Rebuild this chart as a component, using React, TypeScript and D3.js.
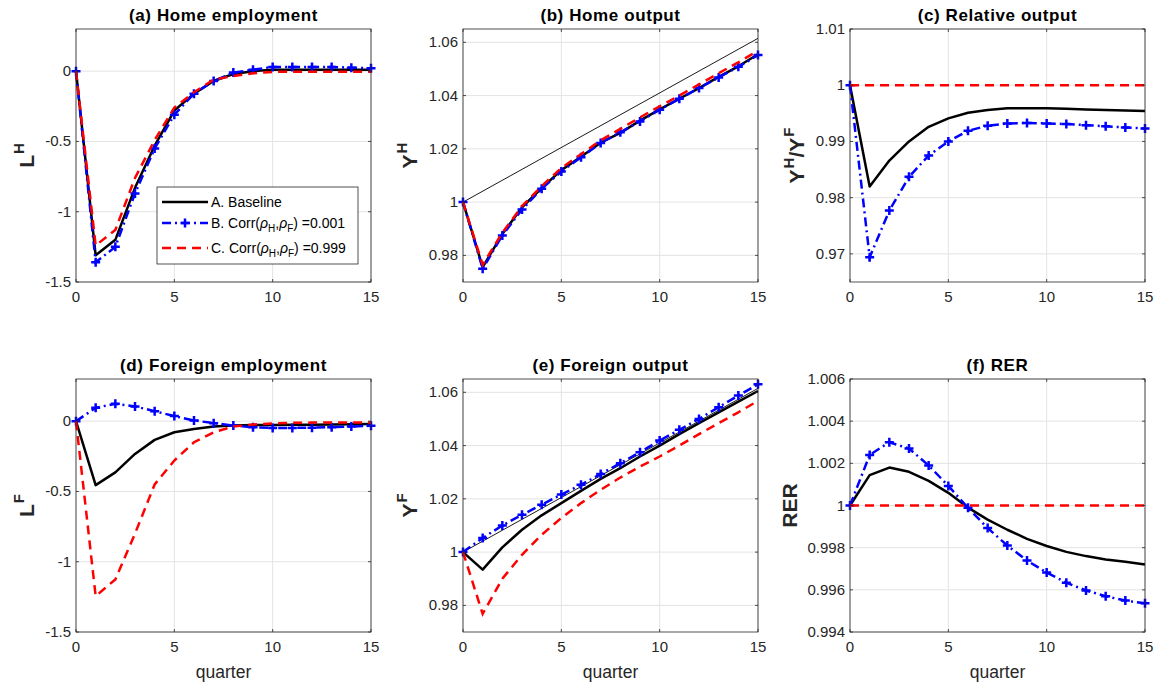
import React from 'react';
import * as d3 from 'd3';

const quarters = [0, 1, 2, 3, 4, 5, 6, 7, 8, 9, 10, 11, 12, 13, 14, 15];
const xTicks = [0, 5, 10, 15];

// (a) Home employment
const homeEmpA = [0, -1.31, -1.2, -0.83, -0.53, -0.28, -0.16, -0.07, -0.02, 0.0, 0.01, 0.01, 0.01, 0.01, 0.01, 0.01];
const homeEmpB = [0, -1.36, -1.25, -0.87, -0.55, -0.31, -0.16, -0.07, -0.01, 0.01, 0.03, 0.03, 0.03, 0.03, 0.025, 0.02];
const homeEmpC = [0, -1.24, -1.13, -0.76, -0.49, -0.26, -0.15, -0.06, -0.035, -0.015, -0.005, -0.005, -0.005, -0.005, -0.005, -0.005];
const empTicks = [0, -0.5, -1, -1.5];

// (b) Home output
const homeOutA = [1, 0.9756, 0.988, 0.998, 1.0053, 1.012, 1.017, 1.0223, 1.026, 1.0306, 1.0348, 1.0388, 1.0428, 1.047, 1.051, 1.0555];
const homeOutB = [1, 0.975, 0.9875, 0.9972, 1.005, 1.0115, 1.0168, 1.0222, 1.0262, 1.0303, 1.0347, 1.0388, 1.0428, 1.0468, 1.0508, 1.0552];
const homeOutC = [1, 0.9765, 0.9885, 0.9985, 1.006, 1.0128, 1.018, 1.0232, 1.0275, 1.0318, 1.036, 1.04, 1.0442, 1.0484, 1.0525, 1.0568];
const trendQuarters = [0, 15];
const trendValues = [1, 1.0615];
const outTicks = [0.98, 1, 1.02, 1.04, 1.06];

// (c) Relative output
const relOutA = [1, 0.982, 0.9866, 0.99, 0.9926, 0.9941, 0.9951, 0.9956, 0.9959, 0.9959, 0.9959, 0.9958, 0.9957, 0.9956, 0.9955, 0.9954];
const relOutB = [1, 0.9694, 0.9777, 0.9837, 0.9875, 0.99, 0.9919, 0.9928, 0.9932, 0.9933, 0.9932, 0.9931, 0.9929, 0.9927, 0.9925, 0.9923];
const relOutC = [1, 1, 1, 1, 1, 1, 1, 1, 1, 1, 1, 1, 1, 1, 1, 1];
const relTicks = [0.97, 0.98, 0.99, 1, 1.01];

// (d) Foreign employment
const forEmpA = [0, -0.455, -0.364, -0.233, -0.133, -0.079, -0.055, -0.038, -0.031, -0.028, -0.027, -0.026, -0.025, -0.024, -0.022, -0.02];
const forEmpB = [0, 0.095, 0.124, 0.105, 0.071, 0.036, 0.005, -0.014, -0.031, -0.043, -0.048, -0.048, -0.046, -0.043, -0.038, -0.033];
const forEmpC = [0, -1.245, -1.126, -0.8, -0.45, -0.28, -0.15, -0.079, -0.038, -0.024, -0.017, -0.012, -0.01, -0.01, -0.01, -0.01];

// (e) Foreign output
const forOutA = [1, 0.9934, 1.0018, 1.0084, 1.0138, 1.0184, 1.023, 1.0275, 1.0315, 1.0359, 1.04, 1.0443, 1.0484, 1.0525, 1.0565, 1.0605];
const forOutB = [1, 1.0053, 1.01, 1.014, 1.0178, 1.0216, 1.0253, 1.0293, 1.0334, 1.0375, 1.0419, 1.0459, 1.05, 1.0544, 1.0588, 1.063];
const forOutC = [1, 0.9768, 0.99, 0.999, 1.0065, 1.0128, 1.0184, 1.0234, 1.028, 1.0321, 1.0359, 1.04, 1.0443, 1.0484, 1.0525, 1.0568];

// (f) RER
const rerA = [1, 1.00144, 1.0018, 1.0016, 1.00117, 1.0006, 0.9999, 0.99933, 0.99885, 0.99842, 0.99808, 0.9978, 0.9976, 0.99744, 0.99733, 0.9972];
const rerB = [1, 1.0024, 1.003, 1.0027, 1.0019, 1.00093, 0.99989, 0.99893, 0.9981, 0.99739, 0.99682, 0.99634, 0.99597, 0.9957, 0.99549, 0.99536];
const rerC = [1, 1, 1, 1, 1, 1, 1, 1, 1, 1, 1, 1, 1, 1, 1, 1];
const rerTicks = [0.994, 0.996, 0.998, 1, 1.002, 1.004, 1.006];

const legendLabels = ['A. Baseline', 'B. Corr', 'C. Corr'];
const legendValues = ['', '0.001', '0.999'];

const FONT = '"Liberation Sans", Arial, Helvetica, sans-serif';
const AX = '#262626';
const GRID = '#e3e3e3';
const BLUE = '#0000ff';
const RED = '#ff0000';

type Panel = {
  title: string;
  ylab: React.ReactNode;
  ylabX: number;
  domain: [number, number];
  ticks: number[];
  fmt: (v: number) => string;
  A: number[];
  B: number[];
  C: number[];
  trend?: boolean;
  col: number;
  row: number;
  legend?: boolean;
};

const fmtPlain = (v: number) => (v === 0 ? '0' : String(v));
const fmt2 = (v: number) => (v === 1 ? '1' : d3.format('.2f')(v));
const fmt3 = (v: number) => (v === 1 ? '1' : d3.format('.3f')(v));

const supLabel = (base: string, sup: string) => (
  <>
    <tspan>{base}</tspan>
    <tspan fontSize={15} dy={-10} dx={1}>{sup}</tspan>
  </>
);

const panels: Panel[] = [
  { title: '(a) Home employment', ylab: supLabel('L', 'H'), ylabX: 34, domain: [-1.5, 0.3], ticks: empTicks, fmt: fmtPlain, A: homeEmpA, B: homeEmpB, C: homeEmpC, col: 0, row: 0, legend: true },
  { title: '(b) Home output', ylab: supLabel('Y', 'H'), ylabX: 417, domain: [0.97, 1.065], ticks: outTicks, fmt: fmt2, A: homeOutA, B: homeOutB, C: homeOutC, trend: true, col: 1, row: 0 },
  {
    title: '(c) Relative output',
    ylab: (
      <>
        <tspan>Y</tspan>
        <tspan fontSize={15} dy={-10} dx={1}>H</tspan>
        <tspan dy={10}>/Y</tspan>
        <tspan fontSize={15} dy={-10} dx={1}>F</tspan>
      </>
    ),
    ylabX: 804, domain: [0.965, 1.01], ticks: relTicks, fmt: fmt2, A: relOutA, B: relOutB, C: relOutC, col: 2, row: 0,
  },
  { title: '(d) Foreign employment', ylab: supLabel('L', 'F'), ylabX: 34, domain: [-1.5, 0.3], ticks: empTicks, fmt: fmtPlain, A: forEmpA, B: forEmpB, C: forEmpC, col: 0, row: 1 },
  { title: '(e) Foreign output', ylab: supLabel('Y', 'F'), ylabX: 417, domain: [0.97, 1.065], ticks: outTicks, fmt: fmt2, A: forOutA, B: forOutB, C: forOutC, trend: true, col: 1, row: 1 },
  { title: '(f) RER', ylab: <tspan>RER</tspan>, ylabX: 797, domain: [0.994, 1.006], ticks: rerTicks, fmt: fmt3, A: rerA, B: rerB, C: rerC, col: 2, row: 1 },
];

const colLeft = [76, 463, 850];
const rowTop = [29, 379];
const PW = 295;
const PH = 253;

const plusPath = 'M-4.5,0H4.5M0,-4.5V4.5';

function PanelView({ p }: { p: Panel }) {
  const x0 = colLeft[p.col];
  const y0 = rowTop[p.row];
  const x = d3.scaleLinear().domain([0, 15]).range([x0, x0 + PW]);
  const y = d3.scaleLinear().domain(p.domain).range([y0 + PH, y0]);
  const line = d3
    .line<number>()
    .x((_, i) => x(quarters[i]))
    .y((d) => y(d));
  const trendLine = d3
    .line<number>()
    .x((_, i) => x(trendQuarters[i]))
    .y((d) => y(d));
  const tl = 3;
  return (
    <g>
      {xTicks.map((t) => (
        <line key={'gx' + t} x1={x(t)} x2={x(t)} y1={y0} y2={y0 + PH} stroke={GRID} strokeWidth={1} />
      ))}
      {p.ticks.map((t) => (
        <line key={'gy' + t} x1={x0} x2={x0 + PW} y1={y(t)} y2={y(t)} stroke={GRID} strokeWidth={1} />
      ))}
      {p.trend && <path d={trendLine(trendValues) || ''} fill="none" stroke="#000" strokeWidth={0.9} />}
      <path d={line(p.A) || ''} fill="none" stroke="#000" strokeWidth={2.5} strokeLinejoin="round" />
      <path d={line(p.B) || ''} fill="none" stroke={BLUE} strokeWidth={2.5} strokeDasharray="9,4,2,4" />
      {p.B.map((v, i) => (
        <path key={'m' + i} d={plusPath} transform={`translate(${x(quarters[i])},${y(v)})`} stroke={BLUE} strokeWidth={2.5} fill="none" />
      ))}
      <path d={line(p.C) || ''} fill="none" stroke={RED} strokeWidth={2.5} strokeDasharray="9,6" />
      <rect x={x0} y={y0} width={PW} height={PH} fill="none" stroke={AX} strokeWidth={0.8} />
      {xTicks.map((t) => (
        <g key={'tx' + t}>
          <line x1={x(t)} x2={x(t)} y1={y0 + PH} y2={y0 + PH - tl} stroke={AX} strokeWidth={0.8} />
          <line x1={x(t)} x2={x(t)} y1={y0} y2={y0 + tl} stroke={AX} strokeWidth={0.8} />
          <text x={x(t)} y={y0 + PH + 20} textAnchor="middle" fontSize={15} fill={AX} fontFamily={FONT}>
            {t}
          </text>
        </g>
      ))}
      {p.ticks.map((t) => (
        <g key={'ty' + t}>
          <line x1={x0} x2={x0 + tl} y1={y(t)} y2={y(t)} stroke={AX} strokeWidth={0.8} />
          <line x1={x0 + PW} x2={x0 + PW - tl} y1={y(t)} y2={y(t)} stroke={AX} strokeWidth={0.8} />
          <text x={x0 - 5} y={y(t) + 5} textAnchor="end" fontSize={15} fill={AX} fontFamily={FONT}>
            {p.fmt(t)}
          </text>
        </g>
      ))}
      <text x={x0 + PW / 2} y={y0 - 8} textAnchor="middle" fontSize={17} letterSpacing={0.6} fontWeight="bold" fill="#000" fontFamily={FONT}>
        {p.title}
      </text>
      <text
        transform={`translate(${p.ylabX},${y0 + PH / 2}) rotate(-90)`}
        textAnchor="middle"
        fontSize={21}
        fontWeight="bold"
        fill={AX}
        fontFamily={FONT}
      >
        {p.ylab}
      </text>
      {p.row === 1 && (
        <text x={x0 + PW / 2} y={678} textAnchor="middle" fontSize={17.5} fill={AX} fontFamily={FONT}>
          quarter
        </text>
      )}
      {p.legend && <Legend />}
    </g>
  );
}

function Legend() {
  const lx = 157;
  const ly = 187;
  const rows = [202, 223, 248];
  return (
    <g fontFamily={FONT} fontSize={14} fill="#000">
      <rect x={lx} y={ly} width={201} height={77} fill="#fff" stroke={AX} strokeWidth={0.8} />
      <line x1={162} x2={208} y1={rows[0]} y2={rows[0]} stroke="#000" strokeWidth={2.5} />
      <line x1={162} x2={208} y1={rows[1]} y2={rows[1]} stroke={BLUE} strokeWidth={2.5} strokeDasharray="9,4,2,4" />
      <path d={plusPath} transform={`translate(185,${rows[1]})`} stroke={BLUE} strokeWidth={2.5} />
      <line x1={162} x2={208} y1={rows[2]} y2={rows[2]} stroke={RED} strokeWidth={2.5} strokeDasharray="9,6" />
      <text x={211} y={rows[0] + 5}>{legendLabels[0]}</text>
      {[1, 2].map((k) => (
        <text key={k} x={211} y={rows[k] + 5}>
          <tspan>{legendLabels[k]}(</tspan>
          <tspan fontStyle="italic">ρ</tspan>
          <tspan fontSize={10} dy={4}>H</tspan>
          <tspan dy={-4}>,</tspan>
          <tspan fontStyle="italic">ρ</tspan>
          <tspan fontSize={10} dy={4}>F</tspan>
          <tspan dy={-4}>) ={legendValues[k]}</tspan>
        </text>
      ))}
    </g>
  );
}

export default function App() {
  return (
    <svg
      width={1171}
      height={687}
      style={{ position: 'absolute', left: 0, top: 0, background: '#fff' }}
      xmlns="http://www.w3.org/2000/svg"
    >
      <rect width={1171} height={687} fill="#fff" />
      {panels.map((p, i) => (
        <PanelView key={i} p={p} />
      ))}
    </svg>
  );
}
